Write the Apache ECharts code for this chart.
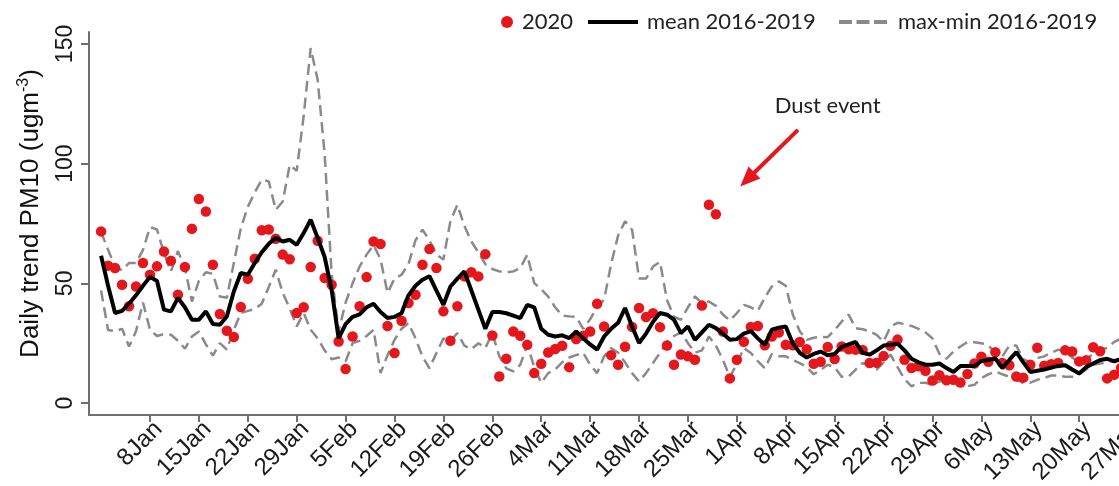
<!DOCTYPE html>
<html>
<head>
<meta charset="utf-8">
<script src="https://cdn.jsdelivr.net/npm/echarts@6/dist/echarts.min.js"></script>
<style>
html,body{margin:0;padding:0;background:#fff;}
#chart{width:1119px;height:486px;}
</style>
</head>
<body>
<div id="chart"></div>
<script>
// Day index: 1 = 1 Jan 2020 (leap year)
const pm2020 = [
71.7,57.4,56.4,49.4,40.4,48.7,58.5,53.6,57.1,63.3,
59.4,45.2,56.8,72.8,85.2,80.0,57.8,37.2,30.2,27.6,
40.1,51.9,60.3,72.2,72.5,68.6,62.0,60.1,37.6,40.0,
56.8,67.8,52.2,49.4,25.7,14.2,27.8,40.4,52.6,67.5,
66.4,32.2,20.9,34.4,41.8,45.2,57.8,64.3,56.4,38.3,
26.0,40.4,52.9,54.6,52.9,62.2,28.2,11.1,18.5,29.9,
28.1,24.3,12.5,16.4,21.1,22.6,23.9,15.0,26.7,28.1,
29.9,41.5,32.0,20.0,16.0,23.5,31.8,39.7,35.9,37.5,
31.7,24.0,16.0,20.3,19.5,18.1,40.7,82.8,78.9,29.9,
10.3,18.1,25.6,31.8,32.2,24.1,27.8,29.5,24.3,24.1,
25.5,22.5,16.4,17.2,23.4,18.4,23.6,22.5,22.3,22.2,
16.7,16.8,19.6,23.9,26.5,18.1,14.6,15.4,13.5,9.4,
11.6,9.5,9.7,8.6,12.1,16.5,19.3,17.2,21.2,16.7,
15.8,11.1,10.6,16.0,23.1,15.6,16.2,16.7,22.0,21.5,
17.4,17.9,23.3,21.6,10.3,11.8,14.6
];
const mean1619 = [
61.5,49.0,37.6,38.5,41.5,45.0,49.0,52.7,51.0,39.0,
38.3,43.9,40.0,34.8,34.8,38.3,33.0,32.7,36.2,46.6,
54.3,53.6,58.5,63.0,66.5,69.0,67.5,68.2,66.1,71.0,
76.6,69.0,61.0,47.3,27.0,33.0,36.0,37.0,40.0,41.5,
38.0,35.5,36.0,37.5,45.0,49.0,51.5,53.0,47.0,41.0,
48.7,52.0,55.0,47.0,39.0,31.0,38.0,38.0,37.5,36.5,
35.5,41.0,40.0,31.0,28.5,27.8,28.3,27.1,29.9,27.1,
24.5,22.3,27.8,31.0,33.5,39.7,32.0,25.1,29.0,34.0,
37.6,36.9,34.8,29.2,32.0,26.4,29.5,32.7,31.3,29.0,
26.4,26.7,29.0,30.0,27.0,24.3,30.6,31.5,32.0,25.0,
21.0,19.0,20.5,21.5,20.0,20.5,23.5,24.5,25.5,21.0,
20.2,22.0,24.0,24.3,24.8,22.0,18.5,17.0,16.0,16.0,
16.5,14.6,13.0,15.5,15.5,15.5,17.5,18.0,18.6,14.6,
18.0,21.3,17.0,13.0,13.5,14.0,14.8,15.5,15.8,14.0,
12.3,15.0,16.5,18.0,18.5,17.4,18.5,18.0
];
const max1619 = [
71.5,64.0,57.0,55.5,58.5,58.5,64.0,73.5,72.5,62.6,
55.0,63.5,56.4,42.4,51.0,54.6,54.0,44.5,44.0,58.5,
73.0,82.0,88.0,93.3,92.6,80.7,84.2,99.5,97.0,120.0,
148.3,135.0,104.0,54.0,30.0,42.0,50.0,57.0,62.0,66.0,
60.0,46.0,52.0,53.6,58.0,68.0,72.4,68.0,62.0,60.0,
76.0,82.8,74.0,67.5,63.0,58.0,56.0,55.0,54.5,55.0,
56.4,61.9,50.1,47.5,44.5,40.0,36.5,36.2,36.0,31.0,
35.0,40.0,43.2,58.0,70.0,75.9,72.4,52.0,52.0,57.0,
59.0,43.0,36.0,34.8,40.0,44.5,41.8,42.4,40.6,37.0,
34.5,37.6,41.0,40.0,38.5,44.0,48.7,50.8,49.0,37.0,
30.0,26.4,27.3,27.6,27.5,30.5,34.0,36.9,31.3,30.8,
30.0,28.5,25.7,32.0,33.5,33.0,32.2,31.0,29.5,27.0,
20.5,18.5,21.5,23.6,25.5,25.4,25.0,24.0,21.0,19.5,
24.0,24.0,18.3,17.0,18.8,19.5,21.0,22.3,21.6,19.0,
17.0,18.5,20.5,22.3,23.0,25.5,27.0,27.0
];
const min1619 = [
47.0,30.5,30.0,31.0,23.6,30.0,42.0,30.6,28.0,28.8,
28.5,26.0,22.7,27.8,29.9,24.5,19.8,25.0,22.3,30.6,
37.6,38.5,39.3,41.5,48.5,55.7,46.0,39.5,32.0,37.6,
30.6,27.0,22.0,18.3,19.0,17.4,25.0,26.0,28.0,30.6,
12.5,20.0,26.4,31.0,33.4,27.0,19.5,14.5,20.9,27.0,
26.0,29.2,24.0,22.5,25.0,23.0,29.2,19.5,14.5,13.2,
16.0,24.3,15.0,8.4,12.5,14.0,17.0,19.0,20.0,21.0,
16.0,12.5,19.5,23.0,21.0,17.0,12.5,9.0,12.5,16.7,
21.0,25.5,28.0,29.5,25.0,21.0,22.0,27.8,24.0,18.1,
10.8,16.5,23.0,20.9,17.5,14.5,20.5,19.5,19.5,18.0,
16.7,15.0,12.0,13.9,16.0,15.0,11.0,11.0,14.0,16.7,
15.5,14.0,17.0,20.2,15.0,10.0,7.0,8.4,8.5,7.6,
9.0,9.5,9.5,9.0,7.0,7.6,10.4,12.0,13.2,12.0,
11.0,9.7,8.4,8.5,9.7,10.5,11.5,11.5,11.0,11.0,
12.0,14.0,16.0,16.5,17.0,18.0,18.0,18.0
];
const tickDays = [8,15,22,29,36,43,50,57,64,71,78,85,92,99,106,113,120,127,134,141,148];
const tickLabels = ['8Jan','15Jan','22Jan','29Jan','5Feb','12Feb','19Feb','26Feb','4Mar','11Mar','18Mar','25Mar','1Apr','8Apr','15Apr','22Apr','29Apr','6May','13May','20May','27May'];
const yTicks = [0,50,100,150];
const seriesNames = ['2020','mean 2016-2019','max-min 2016-2019'];
const dustText = 'Dust event';
const dustLabelAt = [105.0, 124.1];
const dustArrowFrom = [100.75, 114.1];
const dustArrowTo = [93.5, 93.4];

const toPairs = arr => arr.map((v, i) => [i + 1, v]);
const axisFont = 'Liberation Sans, Arial, sans-serif';
const legFont = 'Lato, sans-serif';
const red = '#e3171c';
const gray = '#8a8a8a';
const axisGray = '#6f6f6f';

const chart = echarts.init(document.getElementById('chart'), null, {renderer: 'canvas'});
const labelMap = {};
tickDays.forEach((d, i) => { labelMap[d] = tickLabels[i]; });

chart.setOption({
  backgroundColor: '#fff',
  animation: false,
  grid: {left: 89, top: 32, width: 1088, height: 383, containLabel: false, outerBoundsMode: 'none'},
  xAxis: {
    type: 'value', min: -0.73, max: 155,
    axisLine: {show: true, onZero: false, lineStyle: {color: axisGray, width: 2}},
    axisTick: {show: true, length: 7, customValues: tickDays, lineStyle: {color: axisGray, width: 2}},
    splitLine: {show: false},
    axisLabel: {
      customValues: tickDays, rotate: 45, margin: 2, hideOverlap: false,
      align: 'right', verticalAlign: 'top',
      fontFamily: axisFont, fontSize: 24, color: '#1a1a1a',
      formatter: v => labelMap[v] || ''
    }
  },
  yAxis: {
    type: 'value', min: -5, max: 155,
    axisLine: {show: true, onZero: false, lineStyle: {color: axisGray, width: 2}},
    axisTick: {show: true, length: 8, customValues: yTicks, lineStyle: {color: axisGray, width: 2}},
    splitLine: {show: false},
    axisLabel: {customValues: yTicks, rotate: 90, margin: 12, fontFamily: axisFont, fontSize: 23, color: '#1a1a1a'},
    name: '{t|Daily trend PM10 (ugm}{s|-3}{t|)}',
    nameLocation: 'middle', nameRotate: 90, nameGap: 44,
    nameTextStyle: {
      fontFamily: axisFont, fontSize: 26, color: '#111', padding: [0, 0, 0, 20],
      rich: {
        t: {fontFamily: axisFont, fontSize: 26, color: '#111', lineHeight: 29},
        s: {fontFamily: axisFont, fontSize: 16, color: '#111', verticalAlign: 'top', lineHeight: 16}
      }
    }
  },
  legend: [
    {data: [seriesNames[0]], left: 501, top: 11, padding: 0, icon: 'circle', itemWidth: 12, itemHeight: 12,
     selectedMode: false, textStyle: {fontFamily: legFont, fontSize: 22, color: '#222', padding: [0,0,0,4]}},
    {data: [seriesNames[1]], left: 588, top: 11, padding: 0, icon: 'rect', itemWidth: 50, itemHeight: 4,
     selectedMode: false, itemStyle: {color: '#000', borderWidth: 0},
     textStyle: {fontFamily: legFont, fontSize: 22, color: '#222', padding: [0,0,0,4]}},
    {data: [seriesNames[2]], left: 839, top: 11, padding: 0,
     icon: 'path://M0,0H13V4H0Z M17.5,0H30.5V4H17.5Z M35,0H48V4H35Z', itemWidth: 48, itemHeight: 4,
     selectedMode: false, itemStyle: {color: gray, borderWidth: 0},
     textStyle: {fontFamily: legFont, fontSize: 22, color: '#222', padding: [0,0,0,6]}}
  ],
  series: [
    {name: seriesNames[2], type: 'line', data: toPairs(max1619), showSymbol: false, symbol: 'none',
     lineStyle: {color: gray, width: 2.5, type: [11, 6]}, itemStyle: {color: gray}, z: 2},
    {name: seriesNames[2], type: 'line', data: toPairs(min1619), showSymbol: false, symbol: 'none',
     lineStyle: {color: gray, width: 2.5, type: [11, 6]}, itemStyle: {color: gray}, z: 2},
    {name: seriesNames[0], type: 'scatter', data: toPairs(pm2020), symbol: 'circle', symbolSize: 10.5,
     itemStyle: {color: red, opacity: 1}, z: 3,
     markPoint: {
       silent: true, symbol: 'circle', symbolSize: 1, itemStyle: {color: 'rgba(0,0,0,0)'},
       label: {show: true, position: 'inside', formatter: dustText, fontFamily: legFont, fontSize: 22, color: '#222'},
       data: [{coord: dustLabelAt}]
     },
     markLine: {
       silent: true, symbol: ['none', 'triangle'], symbolSize: [17, 20],
       lineStyle: {color: red, width: 4, type: 'solid'}, label: {show: false},
       data: [[{coord: dustArrowFrom}, {coord: dustArrowTo}]]
     }},
    {name: seriesNames[1], type: 'line', data: toPairs(mean1619), showSymbol: false, symbol: 'none',
     lineStyle: {color: '#000', width: 4}, itemStyle: {color: '#000'}, z: 4}
  ]
});
</script>
</body>
</html>
